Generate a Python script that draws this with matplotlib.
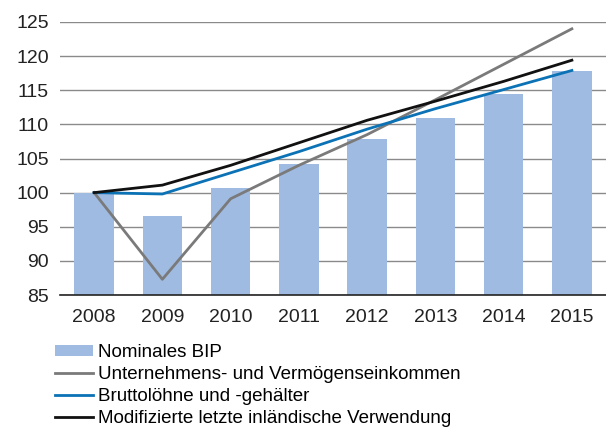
import matplotlib
matplotlib.use("Agg")
import matplotlib.pyplot as plt
import numpy as np
from matplotlib.patches import Patch
from matplotlib.lines import Line2D

years = ["2008", "2009", "2010", "2011", "2012", "2013", "2014", "2015"]
bip = [100.0, 96.6, 100.7, 104.2, 107.8, 111.0, 114.5, 117.8]
unternehmen = [100.0, 87.3, 99.1, 104.0, 108.5, 113.6, 118.8, 124.0]
brutto = [100.0, 99.8, 102.9, 106.0, 109.3, 112.3, 115.1, 117.9]
verwendung = [100.0, 101.1, 104.0, 107.3, 110.6, 113.4, 116.3, 119.4]

labels = ["Nominales BIP", "Unternehmens- und Vermögenseinkommen",
          "Bruttolöhne und -gehälter", "Modifizierte letzte inländische Verwendung"]
yticks = [85, 90, 95, 100, 105, 110, 115, 120, 125]

c_bar = "#A0BBE2"
c_gray = "#7A7A7A"
c_blue = "#0B72B5"
c_black = "#111111"

plt.rcParams['font.family'] = ['Liberation Sans', 'DejaVu Sans']

fig = plt.figure(figsize=(6.06, 4.32), dpi=100)
ax = fig.add_axes([60/606, 1-295/432, 1-60/606, (295-22)/432])

x = np.arange(len(years))
ax.bar(x, bip, width=0.58, bottom=0, color=c_bar, zorder=2)
ax.plot(x, unternehmen, color=c_gray, lw=2, zorder=3)
ax.plot(x, brutto, color=c_blue, lw=2, zorder=4)
ax.plot(x, verwendung, color=c_black, lw=2, zorder=5)

ax.set_ylim(85, 125)
ax.set_xlim(-0.5, len(years) - 0.5)
ax.set_yticks(yticks)
ax.set_xticks(x)
ax.set_xticklabels(years)
ax.tick_params(axis='both', length=0, labelsize=14, colors="#222222")
ax.tick_params(axis='x', pad=10)
ax.tick_params(axis='y', pad=8)
ax.grid(axis='y', color="#8a8a8a", lw=1, zorder=1)
ax.set_axisbelow(True)
for s in ["top", "right", "left"]:
    ax.spines[s].set_visible(False)
ax.spines["bottom"].set_color("#222222")
ax.spines["bottom"].set_linewidth(1.2)
ax.spines["bottom"].set_zorder(6)

handles = [Patch(facecolor=c_bar, edgecolor='none'),
           Line2D([], [], color=c_gray, lw=2),
           Line2D([], [], color=c_blue, lw=2),
           Line2D([], [], color=c_black, lw=2)]
fig.legend(handles, labels, loc='upper left', bbox_to_anchor=(55/606, 1-344/432),
           frameon=False, fontsize=13.5, handlelength=2.03, handleheight=0.48,
           handletextpad=0.27, labelspacing=0.27, borderpad=0, borderaxespad=0)

fig.savefig("out.png", dpi=100)
